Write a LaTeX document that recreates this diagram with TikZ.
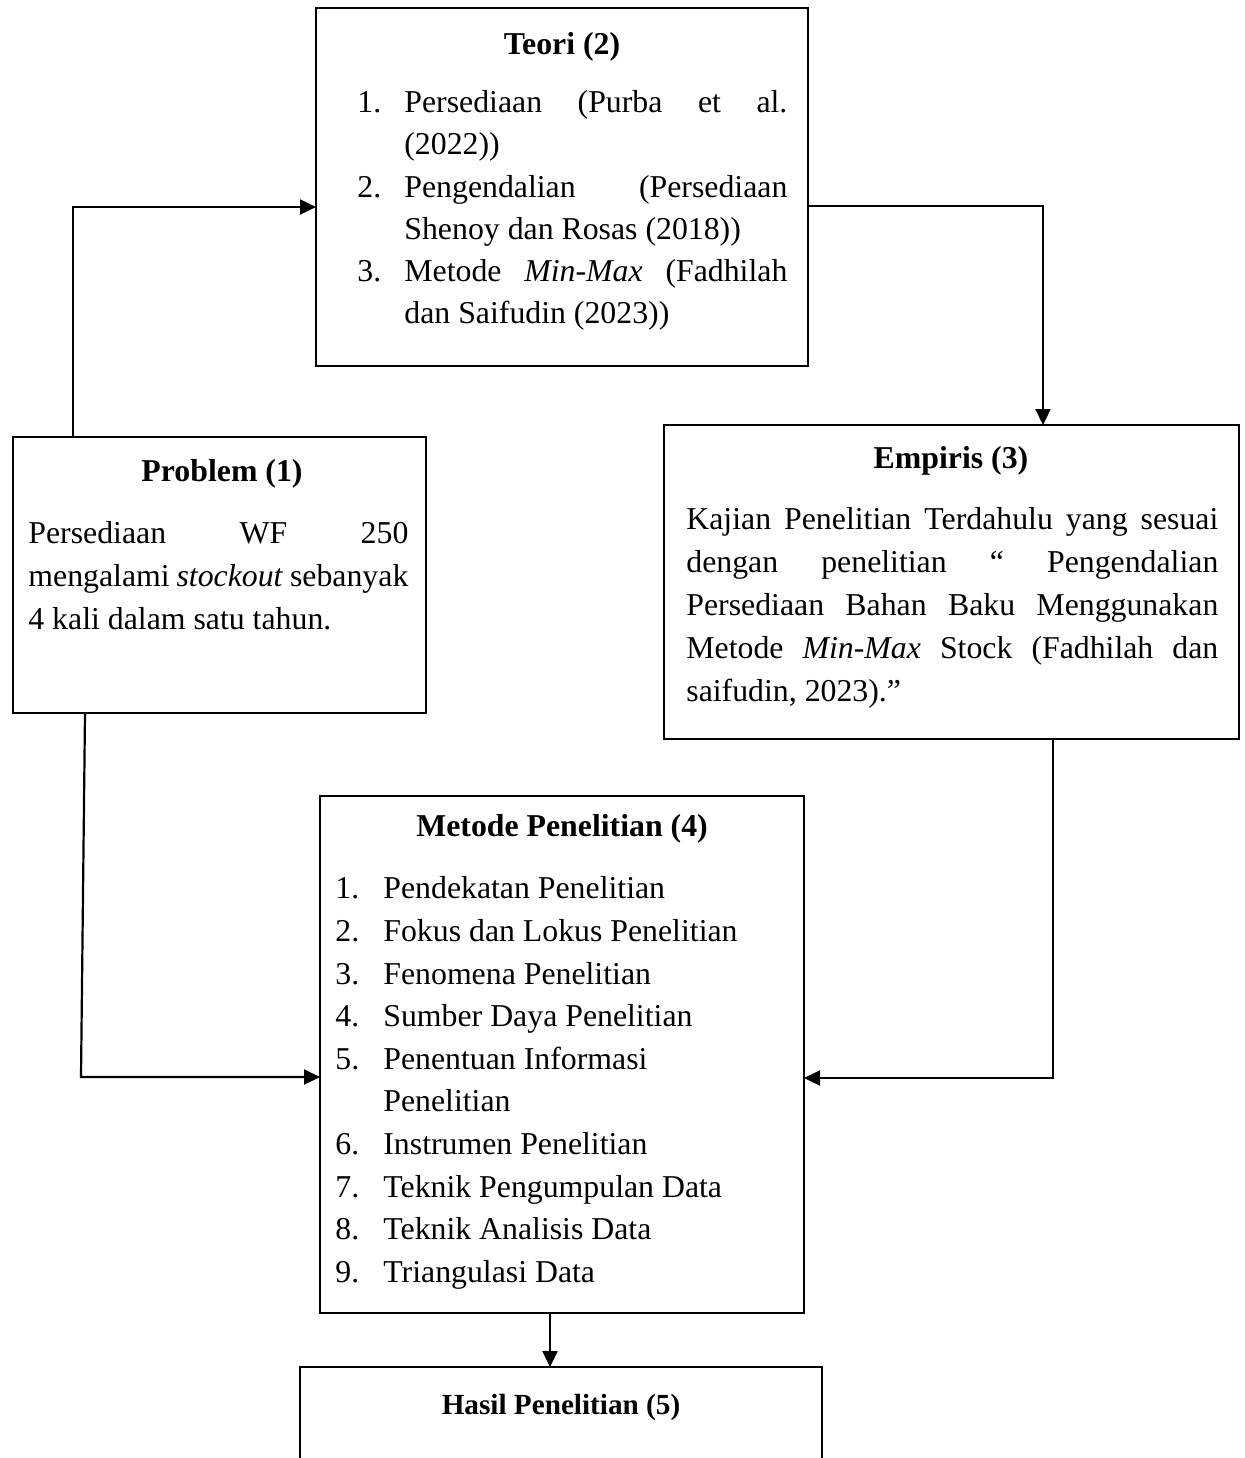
\documentclass[tikz,border=0pt]{standalone}
\usepackage{fontspec}
\setmainfont{Liberation Serif}
\usetikzlibrary{arrows.meta}
\begin{document}
\begin{tikzpicture}[x=0.5pt,y=-0.5pt,
  box/.style={draw, line width=1.4pt, inner sep=0pt, outer sep=0pt, anchor=north west},
  conn/.style={line width=1.1pt, line join=miter, -{Triangle[length=8pt,width=7.5pt]}},
  body/.style={font=\fontsize{15.9}{19}\selectfont, inner sep=0pt, anchor=base west},
  ttl/.style={font=\fontsize{15.9}{19}\selectfont\bfseries, inner sep=0pt, anchor=base},
  ttlsmall/.style={font=\fontsize{14.6}{18}\selectfont\bfseries, inner sep=0pt, anchor=base}]
\clip (0,0) rectangle (1245,1458);
\fill[white] (0,0) rectangle (1245,1458);

% boxes
\node[box, minimum width=246pt, minimum height=179pt] (teori) at (316,8) {};
\node[box, minimum width=206.5pt, minimum height=138pt] (problem) at (13,437) {};
\node[box, minimum width=287.5pt, minimum height=157pt] (empiris) at (664,425) {};
\node[box, minimum width=242pt, minimum height=258.5pt] (metode) at (320,796) {};
\node[box, minimum width=261pt, minimum height=70pt] (hasil) at (300,1367) {};

% Teori
\node[ttl] (tT) at (562,54) {Teori (2)};
\node[body] (tn1) at (357,112) {1.};
\node[body] (tl1) at (404,112) {\makebox[191.5pt][s]{Persediaan (Purba et al.}};
\node[body] (tl2) at (404,154) {(2022))};
\node[body] (tn2) at (357,197) {2.};
\node[body] (tl3) at (404,197) {\makebox[191.5pt][s]{Pengendalian (Persediaan}};
\node[body] (tl4) at (404,239) {Shenoy dan Rosas (2018))};
\node[body] (tn3) at (357,281) {3.};
\node[body] (tl5) at (404,281) {\makebox[191.5pt][s]{Metode \textit{Min-Max} (Fadhilah}};
\node[body] (tl6) at (404,323) {dan Saifudin (2023))};

% Problem
\node[ttl] (pT) at (222,481) {Problem (1)};
\node[body] (pl1) at (28,543) {\makebox[190pt][s]{Persediaan WF 250}};
\node[body] (pl2) at (28,586) {\makebox[190pt][s]{mengalami \textit{stockout} sebanyak}};
\node[body] (pl3) at (28,629) {4 kali dalam satu tahun.};

% Empiris
\node[ttl] (eT) at (951,468) {Empiris (3)};
\node[body] (el1) at (686,529) {\makebox[266pt][s]{Kajian Penelitian Terdahulu yang sesuai}};
\node[body] (el2) at (686,572) {\makebox[266pt][s]{dengan penelitian “ Pengendalian}};
\node[body] (el3) at (686,615) {\makebox[266pt][s]{Persediaan Bahan Baku Menggunakan}};
\node[body] (el4) at (686,658) {\makebox[266pt][s]{Metode \textit{Min-Max} Stock (Fadhilah dan}};
\node[body] (el5) at (686,701) {saifudin, 2023).”};

% Metode
\node[ttl] (mT) at (562,836) {Metode Penelitian (4)};
\foreach \n/\t/\y in {1/Pendekatan Penelitian/898, 2/Fokus dan Lokus Penelitian/941,
  3/Fenomena Penelitian/984, 4/Sumber Daya Penelitian/1026, 5/Penentuan Informasi/1069,
  6/Instrumen Penelitian/1154, 7/Teknik Pengumpulan Data/1197, 8/Teknik Analisis Data/1239,
  9/Triangulasi Data/1282}{
  \node[body] (mn\n) at (335,\y) {\n.};
  \node[body] (ml\n) at (383,\y) {\t};
}
\node[body] (ml5b) at (383,1111) {Penelitian};

% Hasil
\node[ttlsmall] (hT) at (561,1414) {Hasil Penelitian (5)};

% connectors
\coordinate (a1) at (73,207);
\draw[conn] (a1 |- problem.north) -- (a1) -- (a1 -| teori.west);
\coordinate (b1) at (1043,206);
\draw[conn] (teori.east |- b1) -- (b1) -- (b1 |- empiris.north);
\coordinate (c1) at (85,713);
\coordinate (c2) at (81,1077);
\draw[conn] (c1 |- problem.south) -- (c2) -- (c2 -| metode.west);
\coordinate (d1) at (1053,1078);
\draw[conn] (d1 |- empiris.south) -- (d1) -- (d1 -| metode.east);
\coordinate (e1) at (550,1340);
\draw[conn] (e1 |- metode.south) -- (e1 |- hasil.north);
\end{tikzpicture}
\end{document}
